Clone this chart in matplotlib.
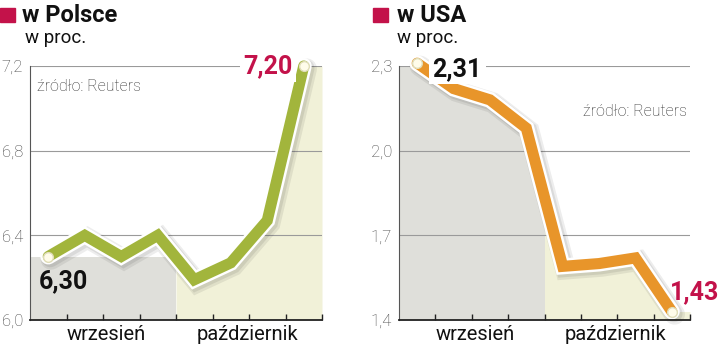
import matplotlib
matplotlib.use('Agg')
import matplotlib.pyplot as plt
import matplotlib.patheffects as pe
from matplotlib.patches import Rectangle
import numpy as np

plt.rcParams['font.family'] = ['Roboto', 'DejaVu Sans']

# weekly readings, two months (4 weeks each)
months = ['wrzesień', 'październik']
pl_values = [6.30, 6.40, 6.30, 6.40, 6.19, 6.27, 6.47, 7.20]
us_values = [2.31, 2.22, 2.18, 2.08, 1.59, 1.60, 1.62, 1.43]
pl_yticks = [6.0, 6.4, 6.8, 7.2]
us_yticks = [1.4, 1.7, 2.0, 2.3]
pl_first, pl_last = '6,30', '7,20'
us_first, us_last = '2,31', '1,43'

GREEN = '#a2b53c'
ORANGE = '#e8952a'
CRIMSON = '#c3124a'
GRAY_BG = '#dfdfda'
YELLOW_BG = '#f1f1d8'


def fmt(v):
    return f'{v:.1f}'.replace('.', ',')


def draw_panel(ax, vals, yticks, color, flat_sep, lbl_first, lbl_last,
               first_off, first_ha, first_va, first_box,
               last_off, last_ha, last_va, last_box):
    n = len(vals)
    xs = np.arange(n) + 0.5
    xe = np.concatenate([[0], xs, [n]])
    ye = np.concatenate([[vals[0]], vals, [vals[-1]]])
    xf = np.linspace(0, n, 801)
    yf = np.interp(xf, xe, ye)
    half = n / 2
    sep = xf <= half
    oct_ = xf >= half
    if flat_sep:
        ax.fill_between(xf[sep], yticks[0], vals[0], color=GRAY_BG, lw=0)
    else:
        ax.fill_between(xf[sep], yticks[0], yf[sep], color=GRAY_BG, lw=0)
    ax.fill_between(xf[oct_], yticks[0], yf[oct_], color=YELLOW_BG, lw=0)

    ax.plot(xs, vals, color=color, lw=8, solid_joinstyle='miter',
            solid_capstyle='round', zorder=3, clip_on=False,
            path_effects=[
                pe.SimpleLineShadow(offset=(2, -2), shadow_color='k', alpha=0.07, linewidth=15),
                pe.SimpleLineShadow(offset=(1.5, -1.5), shadow_color='k', alpha=0.08, linewidth=12.5),
                pe.Stroke(linewidth=11.5, foreground='white'),
                pe.Normal()])
    ax.plot([xs[0], xs[-1]], [vals[0], vals[-1]], 'o', ms=7, mfc='#fffcea',
            mec='#e0ddb8', mew=1, zorder=4, clip_on=False)

    box = dict(boxstyle='square,pad=0.15', fc='white', ec='none')
    ax.annotate(lbl_first, (xs[0], vals[0]), xytext=first_off, textcoords='offset points',
                ha=first_ha, va=first_va, fontsize=18, fontweight='bold', color='#111',
                zorder=5, annotation_clip=False, bbox=box if first_box else None)
    ax.annotate(lbl_last, (xs[-1], vals[-1]), xytext=last_off, textcoords='offset points',
                ha=last_ha, va=last_va, fontsize=18, fontweight='bold', color=CRIMSON,
                zorder=5, annotation_clip=False, bbox=box if last_box else None)

    ax.set_xlim(0, n)
    ax.set_ylim(yticks[0], yticks[-1])
    ax.set_yticks(yticks)
    ax.set_yticklabels([fmt(v) for v in yticks], fontsize=12, color='#444', fontweight='light')
    ax.set_xticks(np.arange(1, n + 1))
    ax.set_xticklabels([])
    ax.tick_params(axis='y', length=0, pad=5)
    ax.tick_params(axis='x', direction='in', length=4.5, width=1, color='#222')
    ax.grid(axis='y', color='#9a9a9a', lw=0.8)
    for s in ['top', 'right']:
        ax.spines[s].set_visible(False)
    ax.spines['left'].set_color('#555')
    ax.spines['left'].set_linewidth(0.8)
    ax.spines['bottom'].set_color('#222')
    ax.spines['bottom'].set_linewidth(1.3)
    ax.spines['bottom'].set_zorder(6)
    for i, m in enumerate(months):
        ax.text(half * i + half / 2 + (0.1 if i == 0 else -0.05), -0.02, m,
                transform=ax.get_xaxis_transform(), ha='center', va='top',
                fontsize=14.5, color='#111')


fig = plt.figure(figsize=(7.2, 3.5), dpi=100)
ax1 = fig.add_axes([30 / 720, 30 / 350, 292 / 720, 254 / 350])
ax2 = fig.add_axes([399 / 720, 30 / 350, 291 / 720, 254 / 350])

draw_panel(ax1, pl_values, pl_yticks, GREEN, True, pl_first, pl_last,
           (-7, -9), 'left', 'top', False,
           (-8, 0), 'right', 'center', True)
draw_panel(ax2, us_values, us_yticks, ORANGE, False, us_first, us_last,
           (11, -4), 'left', 'center', True,
           (-1, 14), 'left', 'center', False)

ax1.text(0.025, 0.95, 'źródło: Reuters', transform=ax1.transAxes, ha='left', va='top',
         fontsize=11.5, color='#333', fontweight='light')
ax2.text(0.99, 0.85, 'źródło: Reuters', transform=ax2.transAxes, ha='right', va='top',
         fontsize=11.5, color='#333', fontweight='light')

# headers
for x0, title in [(0, 'w Polsce'), (373, 'w USA')]:
    fig.patches.append(Rectangle((x0 / 720, 1 - 22 / 350), 15 / 720, 14 / 350,
                                 transform=fig.transFigure, color=CRIMSON))
    fig.text((x0 + 22 if x0 == 0 else x0 + 24) / 720, 1 - 22 / 350, title,
             fontsize=17, fontweight='bold', color='#111', va='baseline')
    fig.text((x0 + 25 if x0 == 0 else x0 + 24) / 720, 1 - 43 / 350, 'w proc.',
             fontsize=13.5, color='#111', va='baseline')

fig.savefig('out.png', dpi=100)
